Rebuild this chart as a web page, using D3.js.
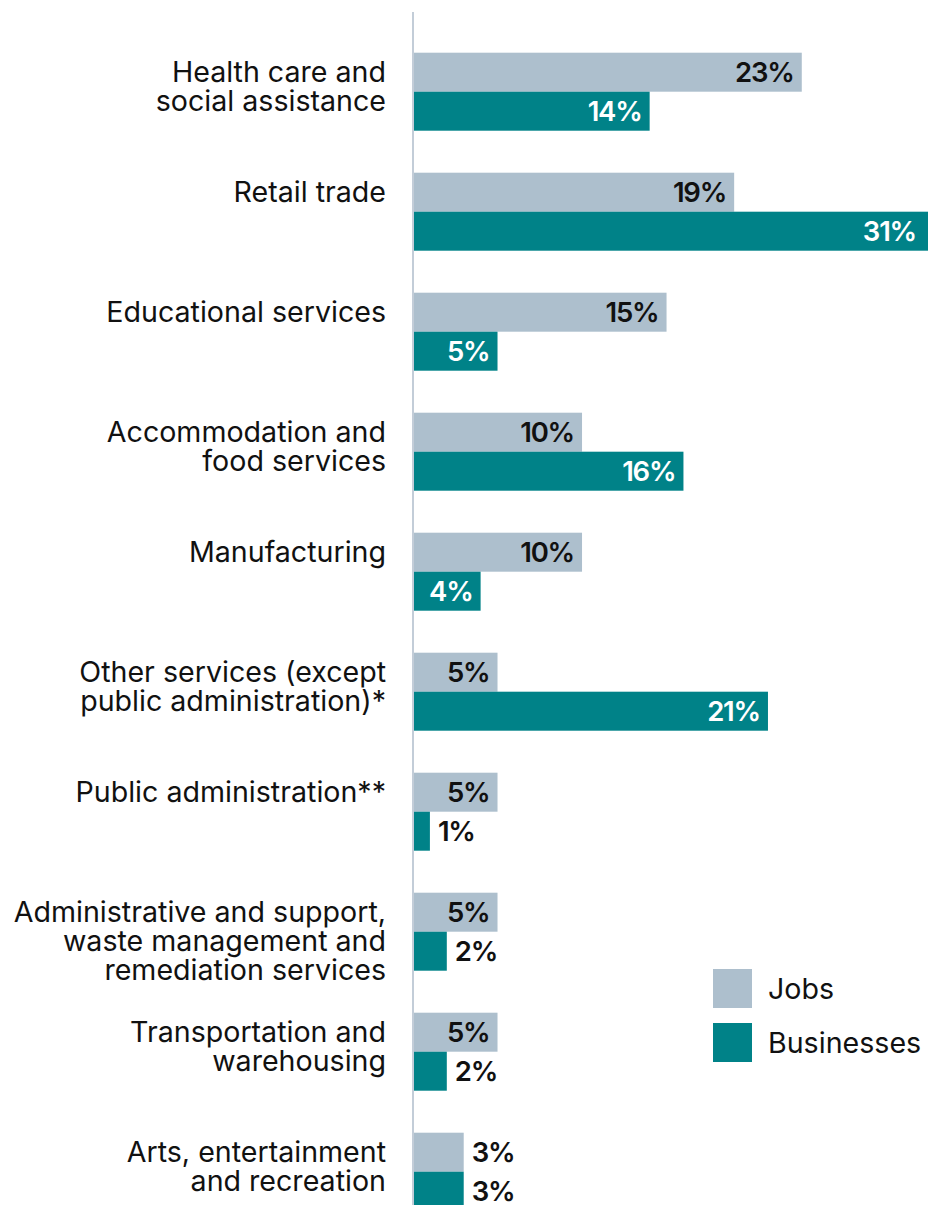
<!DOCTYPE html>
<html>
<head>
<meta charset="utf-8">
<script src="https://cdn.jsdelivr.net/npm/d3@7"></script>
<style>
  html, body { margin: 0; padding: 0; background: #fff; }
  svg { display: block; font-family: Inter, "Noto Sans", sans-serif; }
</style>
</head>
<body>
<svg id="chart" width="928" height="1205"></svg>
<script>
const categories = [
  "Health care and\nsocial assistance",
  "Retail trade",
  "Educational services",
  "Accommodation and\nfood services",
  "Manufacturing",
  "Other services (except\npublic administration)*",
  "Public administration**",
  "Administrative and support,\nwaste management and\nremediation services",
  "Transportation and\nwarehousing",
  "Arts, entertainment\nand recreation"
];
const jobs       = [23, 19, 15, 10, 10, 5, 5, 5, 5, 3];
const businesses = [14, 31, 5, 16, 4, 21, 1, 2, 2, 3];
const seriesNames = ["Jobs", "Businesses"];
const seriesColors = ["#adbfcd", "#008288"];

const svg = d3.select("#chart");
const W = 928, H = 1205;
const x0 = 413;

const x = d3.scaleLinear().domain([0, 31]).range([x0, x0 + 524]);
const y = d3.scaleBand().domain(categories).range([31.7, 1231.7])
  .paddingInner(0.35).paddingOuter(0.175);
const ySub = d3.scaleBand().domain(seriesNames).range([0, y.bandwidth()]);

const data = categories.map((c, i) => ({ cat: c, vals: [jobs[i], businesses[i]] }));

const groups = svg.append("g").selectAll("g.grp").data(data).join("g")
  .attr("class", "grp")
  .attr("transform", d => `translate(0,${y(d.cat)})`);

groups.selectAll("rect").data(d => d.vals.map((v, k) => ({ v, k })))
  .join("rect")
  .attr("x", x(0))
  .attr("y", d => ySub(seriesNames[d.k]))
  .attr("width", d => x(d.v) - x(0))
  .attr("height", ySub.bandwidth())
  .attr("fill", d => seriesColors[d.k]);

groups.selectAll("text.val").data(d => d.vals.map((v, k) => ({ v, k })))
  .join("text")
  .attr("class", "val")
  .each(function(d) {
    const w = x(d.v) - x(0);
    const inside = w >= 60;
    const end = Math.min(x(d.v), W - 4);
    d3.select(this)
      .attr("x", inside ? end - 8 : x(d.v) + 8)
      .attr("text-anchor", inside ? "end" : "start")
      .attr("fill", inside && d.k === 1 ? "#ffffff" : "#111111");
  })
  .attr("y", d => ySub(seriesNames[d.k]) + ySub.bandwidth() / 2)
  .attr("dy", "0.36em")
  .attr("font-size", 27.5)
  .attr("font-weight", 600)
  .attr("letter-spacing", "-1.2px")
  .text(d => d.v + "%");

// axis line
svg.append("line")
  .attr("x1", x(0)).attr("x2", x(0))
  .attr("y1", 12).attr("y2", H)
  .attr("stroke", "#c3cdd8").attr("stroke-width", 2);

// category labels
groups.append("text")
  .attr("text-anchor", "end")
  .attr("font-size", 28.6)
  .attr("fill", "#111111")
  .selectAll("tspan").data(d => d.cat.split("\n"))
  .join("tspan")
  .attr("x", 386)
  .attr("y", (d, i) => ySub.bandwidth() / 2 + i * 28.6)
  .attr("dy", "0.36em")
  .text(d => d);

// legend
const legend = svg.append("g");
seriesNames.forEach((s, k) => {
  legend.append("rect")
    .attr("x", 713).attr("y", 969 + k * 54)
    .attr("width", 39).attr("height", 39)
    .attr("fill", seriesColors[k]);
  legend.append("text")
    .attr("x", 768).attr("y", 969 + k * 54 + 19.5)
    .attr("dy", "0.36em")
    .attr("font-size", 28.6)
    .attr("fill", "#111111")
    .text(s);
});
</script>
</body>
</html>
